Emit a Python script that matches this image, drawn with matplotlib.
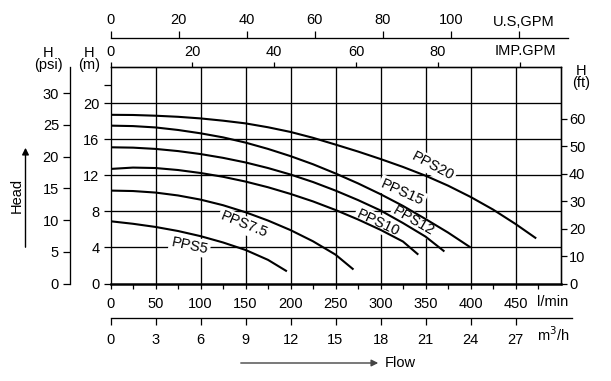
import matplotlib
matplotlib.use('Agg')
import matplotlib.pyplot as plt
import numpy as np

plt.rcParams['font.family'] = ['Liberation Sans', 'DejaVu Sans']
plt.rcParams['font.size'] = 10.5

W, H = 611, 381

# head curves: flow in l/min, head in m
pps5_q = [0, 25, 50, 75, 100, 125, 150, 175, 196]
pps5_h = [6.9, 6.62, 6.27, 5.82, 5.25, 4.55, 3.72, 2.62, 1.35]

pps75_q = [0, 25, 50, 75, 100, 125, 150, 175, 200, 225, 250, 270]
pps75_h = [10.3, 10.25, 10.08, 9.76, 9.3, 8.68, 7.9, 6.98, 5.92, 4.68, 3.2, 1.55]

pps10_q = [0, 25, 50, 75, 100, 125, 150, 175, 200, 225, 250, 275, 300, 325, 342]
pps10_h = [12.7, 12.85, 12.8, 12.58, 12.25, 11.83, 11.3, 10.67, 9.93, 9.1, 8.15,
           7.1, 5.95, 4.65, 3.2]

pps12_q = [0, 25, 50, 75, 100, 125, 150, 175, 200, 225, 250, 275, 300, 325, 350, 371]
pps12_h = [15.1, 15.06, 14.92, 14.68, 14.35, 13.93, 13.42, 12.8, 12.08, 11.25,
           10.3, 9.25, 8.1, 6.7, 5.2, 3.55]

pps15_q = [0, 25, 50, 75, 100, 125, 150, 175, 200, 225, 250, 275, 300, 325, 350, 375, 400]
pps15_h = [17.5, 17.45, 17.3, 17.02, 16.65, 16.2, 15.62, 14.92, 14.12, 13.22,
           12.2, 11.1, 9.9, 8.6, 7.15, 5.65, 4.0]

pps20_q = [0, 25, 50, 75, 100, 125, 150, 175, 200, 225, 250, 275, 300, 325, 350,
           375, 400, 425, 450, 473]
pps20_h = [18.7, 18.68, 18.6, 18.48, 18.3, 18.05, 17.75, 17.32, 16.8, 16.15,
           15.4, 14.63, 13.8, 12.92, 11.95, 10.85, 9.6, 8.2, 6.6, 5.0]

curves = [(pps5_q, pps5_h), (pps75_q, pps75_h), (pps10_q, pps10_h),
          (pps12_q, pps12_h), (pps15_q, pps15_h), (pps20_q, pps20_h)]

# curve labels: name, flow, head, angle
labels = ['PPS5', 'PPS7.5', 'PPS10', 'PPS12', 'PPS15', 'PPS20']
label_q = [88, 148, 297, 337, 324, 358]
label_h = [4.2, 6.5, 6.7, 6.9, 10.1, 13.0]
label_rot = [-12, -22, -25, -30, -24, -28]

lpm_ticks = [0, 50, 100, 150, 200, 250, 300, 350, 400, 450]
m3h_ticks = [0, 3, 6, 9, 12, 15, 18, 21, 24, 27]
m_ticks = [0, 4, 8, 12, 16, 20]
psi_ticks = [0, 5, 10, 15, 20, 25, 30]
ft_ticks = [0, 10, 20, 30, 40, 50, 60]
us_ticks = [0, 20, 40, 60, 80, 100, 120]
imp_ticks = [0, 20, 40, 60, 80, 100]

US_GAL = 3.78541
IMP_GAL = 4.54609
PX = 0.72  # points per pixel


def fx(px):
    return px / W


def fy(py):
    return 1 - py / H


def ftext(x, y, s, **kw):
    fig.text(fx(x), fy(y), s, **kw)


fig = plt.figure(figsize=(W / 100, H / 100), dpi=100)

# main chart (l/min vs m)
ax = fig.add_axes([fx(110.5), fy(283.5), 450 / W, (283.5 - 67) / H])
ax.set_xlim(0, 500)
ax.set_ylim(0, 24)
for x in lpm_ticks[1:]:
    ax.axvline(x, color='black', lw=0.95, zorder=1)
for y in [4, 8, 12, 16, 20]:
    ax.axhline(y, color='black', lw=0.95, zorder=1)

for q, h in curves:
    ax.plot(q, h, color='black', lw=1.5, zorder=3, solid_capstyle='butt',
            solid_joinstyle='round')

for s, q, h, r in zip(labels, label_q, label_h, label_rot):
    ax.text(q, h, s, rotation=r, ha='center', va='center', fontsize=10.5,
            rotation_mode='anchor', zorder=2,
            bbox=dict(facecolor='white', edgecolor='none', pad=1.5))

for sp in ['left', 'right', 'top']:
    ax.spines[sp].set_linewidth(0.95)
ax.spines['bottom'].set_linewidth(1.8)

ax.set_xticks(lpm_ticks)
ax.set_xticks(np.arange(25, 500, 50), minor=True)
ax.set_yticks(m_ticks)
ax.set_yticks([22], minor=True)
ax.tick_params(axis='x', which='both', direction='out', length=5 * PX,
               width=0.9, pad=9 * PX)
ax.tick_params(axis='y', which='both', direction='out', length=7 * PX,
               width=0.9, pad=4 * PX)
ax.tick_params(axis='y', which='minor', labelleft=False)

# IMP.GPM on the top spine
imp = ax.secondary_xaxis('top', functions=(lambda q: q / IMP_GAL,
                                           lambda g: g * IMP_GAL))
imp.set_xticks(imp_ticks)
imp.set_xticklabels([str(t) for t in imp_ticks[:-1]] + [''])
imp.tick_params(direction='out', length=5 * PX, width=0.9, pad=3 * PX)
imp.spines['top'].set_linewidth(0.95)

# psi axis, offset to the left
ax_psi = ax.twinx()
ax_psi.set_ylim(0, 24 * 1.42197)
ax_psi.yaxis.set_ticks_position('left')
ax_psi.yaxis.set_label_position('left')
ax_psi.spines['left'].set_position(('outward', 40.5 * PX))
ax_psi.spines['left'].set_linewidth(0.95)
for sp in ['right', 'top', 'bottom']:
    ax_psi.spines[sp].set_visible(False)
ax_psi.set_yticks(psi_ticks)
ax_psi.tick_params(axis='y', direction='out', length=7 * PX, width=0.9,
                   pad=4 * PX)

# ft axis on the right
ax_ft = ax.twinx()
ax_ft.set_ylim(0, 24 * 3.28084)
for sp in ['left', 'top', 'bottom']:
    ax_ft.spines[sp].set_visible(False)
ax_ft.spines['right'].set_linewidth(0.95)
ax_ft.set_yticks(ft_ticks)
ax_ft.tick_params(axis='y', direction='out', length=6 * PX, width=0.9,
                  pad=2.5 * PX)

# U.S. GPM axis line at the very top
us_right = 568
ax_us = fig.add_axes([fx(110.5), fy(38.3) - 0.002, (us_right - 110.5) / W, 0.002])
ax_us.set_xlim(0, (us_right - 110.5) / 0.9)
ax_us.patch.set_visible(False)
for sp in ['left', 'right', 'bottom']:
    ax_us.spines[sp].set_visible(False)
ax_us.spines['top'].set_linewidth(0.95)
ax_us.set_yticks([])
ax_us.xaxis.set_ticks_position('top')
ax_us.set_xticks([g * US_GAL for g in us_ticks])
ax_us.set_xticklabels([str(t) for t in us_ticks[:-1]] + [''])
ax_us.tick_params(axis='x', direction='out', length=7 * PX, width=0.9,
                  pad=4 * PX)

# m3/h axis line below
m3_right = 572
ax_m3 = fig.add_axes([fx(110.5), fy(318.3), (m3_right - 110.5) / W, 0.002])
ax_m3.set_xlim(0, (m3_right - 110.5) / 0.9)
ax_m3.patch.set_visible(False)
for sp in ['left', 'right', 'top']:
    ax_m3.spines[sp].set_visible(False)
ax_m3.spines['bottom'].set_linewidth(0.95)
ax_m3.set_yticks([])
ax_m3.set_xticks([t / 0.06 for t in m3h_ticks])
ax_m3.set_xticklabels([str(t) for t in m3h_ticks])
ax_m3.tick_params(axis='x', direction='out', length=7 * PX, width=0.9,
                  pad=8 * PX)

# unit texts
ftext(524, 22, 'U.S,GPM', ha='center', va='center')
ftext(525, 51, 'IMP.GPM', ha='center', va='center')
ftext(48, 59, 'H\n(psi)', ha='center', va='center', linespacing=0.85)
ftext(89.5, 59, 'H\n(m)', ha='center', va='center', linespacing=0.85)
ftext(581, 77, 'H\n(ft)', ha='center', va='center', linespacing=0.8)
ftext(537, 302.5, 'l/min', ha='left', va='center')
ftext(537, 335, 'm$^3$/h', ha='left', va='center')
ftext(17, 195, 'Head', ha='center', va='center', rotation=90)
ftext(385, 363, 'Flow', ha='left', va='center')

fig.add_artist(matplotlib.patches.FancyArrowPatch(
    (fx(25.5), fy(250)), (fx(25.5), fy(145)), transform=fig.transFigure,
    arrowstyle='-|>', mutation_scale=10, color='black', lw=1.0))
fig.add_artist(matplotlib.patches.FancyArrowPatch(
    (fx(238), fy(363)), (fx(381), fy(363)), transform=fig.transFigure,
    arrowstyle='-|>', mutation_scale=10, color='#444444', lw=1.0))

fig.savefig('out.png', dpi=100)
